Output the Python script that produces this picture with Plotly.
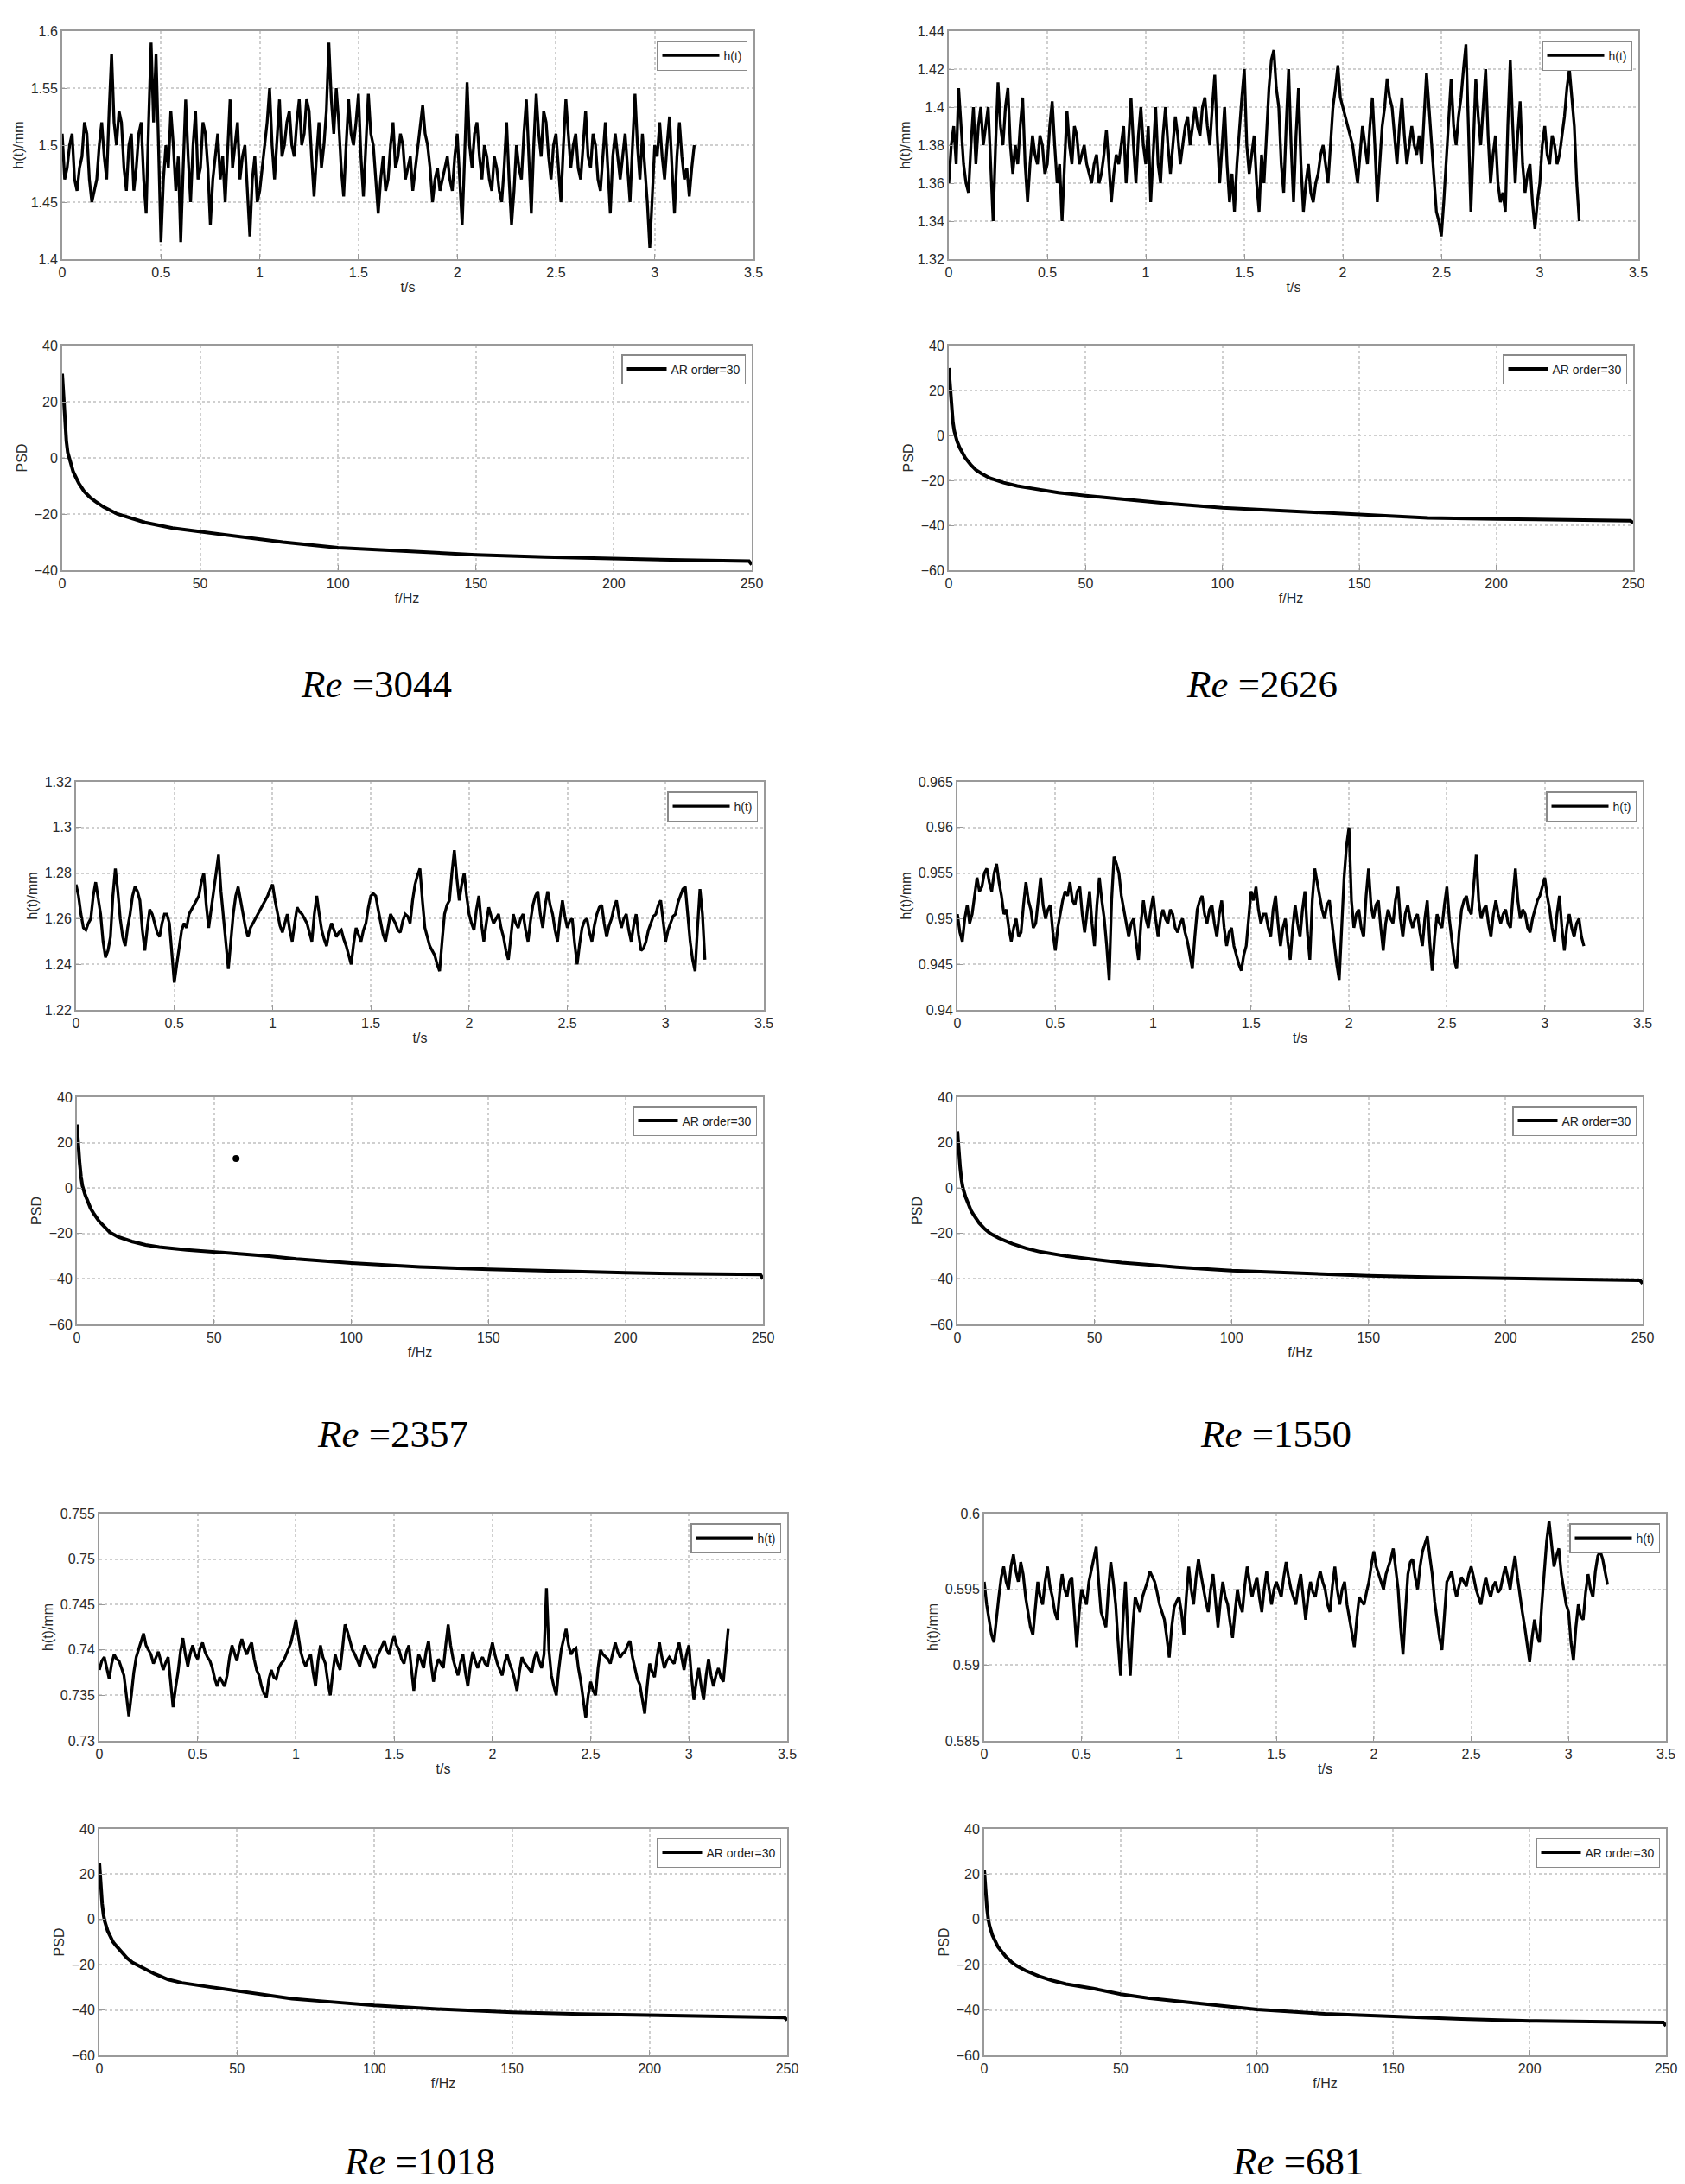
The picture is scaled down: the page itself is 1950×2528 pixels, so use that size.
import numpy as np
import plotly.graph_objects as go

# ---- film thickness h(t) [mm]; main readings every 0.025 s plus the wiggle between them ----
t_s = np.linspace(0, 3.2, 257)

h_3044_main = [1.51, 1.48, 1.51, 1.46, 1.49, 1.51, 1.45, 1.47, 1.52, 1.47, 1.58, 1.50, 1.52, 1.46, 1.51, 1.48,
               1.52, 1.44, 1.59, 1.58, 1.415, 1.50, 1.53, 1.46, 1.415, 1.54, 1.45, 1.53, 1.48, 1.51, 1.43, 1.49,
               1.47, 1.45, 1.54, 1.50, 1.47, 1.50, 1.42, 1.49, 1.46, 1.50, 1.55, 1.47, 1.54, 1.50, 1.53, 1.49,
               1.54, 1.51, 1.53, 1.455, 1.52, 1.50, 1.59, 1.51, 1.52, 1.455, 1.54, 1.50, 1.545, 1.455, 1.545, 1.50,
               1.44, 1.49, 1.47, 1.52, 1.49, 1.50, 1.48, 1.46, 1.50, 1.535, 1.50, 1.45, 1.48, 1.47, 1.49, 1.46,
               1.51, 1.43, 1.555, 1.48, 1.52, 1.47, 1.49, 1.46, 1.48, 1.45, 1.52, 1.43, 1.50, 1.47, 1.54, 1.44,
               1.545, 1.49, 1.52, 1.47, 1.51, 1.45, 1.54, 1.48, 1.51, 1.47, 1.53, 1.48, 1.50, 1.46, 1.52, 1.44,
               1.51, 1.47, 1.51, 1.45, 1.545, 1.47, 1.48, 1.41, 1.50, 1.52, 1.47, 1.525, 1.44, 1.52, 1.47, 1.455,
               1.50]
h_3044_mid = [1.47, 1.50, 1.47, 1.48, 1.52, 1.47, 1.46, 1.50, 1.49, 1.53, 1.52, 1.53, 1.48, 1.50, 1.46, 1.51,
              1.47, 1.52, 1.52, 1.50, 1.47, 1.48, 1.50, 1.49, 1.48, 1.49, 1.50, 1.47, 1.52, 1.48, 1.47, 1.51,
              1.49, 1.50, 1.48, 1.52, 1.49, 1.46, 1.47, 1.45, 1.48, 1.52, 1.50, 1.51, 1.49, 1.52, 1.50, 1.52,
              1.50, 1.54, 1.49, 1.49, 1.48, 1.53, 1.54, 1.55, 1.48, 1.50, 1.51, 1.52, 1.49, 1.50, 1.51, 1.47,
              1.47, 1.46, 1.50, 1.48, 1.51, 1.47, 1.49, 1.48, 1.52, 1.51, 1.48, 1.47, 1.46, 1.48, 1.47, 1.49,
              1.47, 1.49, 1.50, 1.51, 1.49, 1.50, 1.47, 1.49, 1.46, 1.48, 1.47, 1.46, 1.48, 1.51, 1.49, 1.50,
              1.51, 1.53, 1.49, 1.50, 1.48, 1.50, 1.51, 1.50, 1.48, 1.50, 1.49, 1.51, 1.47, 1.49, 1.48, 1.49,
              1.49, 1.49, 1.48, 1.50, 1.50, 1.51, 1.45, 1.46, 1.49, 1.49, 1.50, 1.48, 1.49, 1.49, 1.48, 1.48]

h_2626_main = [1.36, 1.39, 1.41, 1.37, 1.355, 1.40, 1.39, 1.38, 1.40, 1.34, 1.413, 1.38, 1.41, 1.365, 1.37, 1.405,
               1.35, 1.385, 1.37, 1.38, 1.37, 1.403, 1.36, 1.34, 1.398, 1.37, 1.385, 1.375, 1.37, 1.36, 1.375, 1.365,
               1.388, 1.35, 1.375, 1.38, 1.36, 1.405, 1.36, 1.40, 1.37, 1.35, 1.40, 1.36, 1.40, 1.365, 1.395, 1.37,
               1.39, 1.38, 1.40, 1.385, 1.405, 1.38, 1.417, 1.36, 1.40, 1.35, 1.345, 1.39, 1.42, 1.365, 1.385, 1.345,
               1.36, 1.41, 1.43, 1.40, 1.355, 1.42, 1.35, 1.41, 1.345, 1.37, 1.35, 1.365, 1.38, 1.36, 1.40, 1.422,
               1.40, 1.39, 1.38, 1.36, 1.39, 1.37, 1.405, 1.35, 1.39, 1.415, 1.40, 1.37, 1.405, 1.37, 1.39, 1.375,
               1.37, 1.418, 1.38, 1.345, 1.332, 1.37, 1.415, 1.38, 1.405, 1.433, 1.345, 1.415, 1.38, 1.42, 1.36, 1.385,
               1.35, 1.345, 1.425, 1.36, 1.403, 1.355, 1.37, 1.336, 1.36, 1.39, 1.37, 1.38, 1.375, 1.395, 1.42, 1.39,
               1.34]
h_2626_mid = [1.38, 1.37, 1.39, 1.36, 1.38, 1.37, 1.40, 1.39, 1.37, 1.38, 1.39, 1.40, 1.38, 1.38, 1.39, 1.37,
              1.37, 1.375, 1.385, 1.365, 1.39, 1.38, 1.37, 1.37, 1.38, 1.39, 1.37, 1.38, 1.365, 1.37, 1.36, 1.375,
              1.37, 1.365, 1.37, 1.39, 1.38, 1.38, 1.385, 1.38, 1.39, 1.375, 1.37, 1.385, 1.38, 1.38, 1.385, 1.38,
              1.395, 1.39, 1.39, 1.40, 1.39, 1.40, 1.385, 1.38, 1.37, 1.365, 1.37, 1.405, 1.38, 1.375, 1.36, 1.375,
              1.385, 1.425, 1.41, 1.37, 1.39, 1.38, 1.385, 1.37, 1.36, 1.355, 1.36, 1.375, 1.37, 1.38, 1.41, 1.405,
              1.395, 1.385, 1.37, 1.375, 1.38, 1.39, 1.38, 1.37, 1.40, 1.405, 1.385, 1.39, 1.385, 1.38, 1.38, 1.385,
              1.395, 1.40, 1.36, 1.34, 1.35, 1.395, 1.39, 1.395, 1.42, 1.39, 1.38, 1.395, 1.40, 1.385, 1.375, 1.36,
              1.355, 1.39, 1.39, 1.385, 1.37, 1.365, 1.35, 1.35, 1.38, 1.375, 1.385, 1.37, 1.385, 1.41, 1.405, 1.36]

h_2357_main = [1.275, 1.262, 1.255, 1.260, 1.276, 1.262, 1.243, 1.252, 1.282, 1.260, 1.248, 1.262, 1.274, 1.268, 1.246, 1.264,
               1.258, 1.252, 1.262, 1.258, 1.232, 1.248, 1.258, 1.262, 1.266, 1.270, 1.280, 1.256, 1.272, 1.288, 1.260, 1.238,
               1.262, 1.274, 1.262, 1.252, 1.258, 1.262, 1.266, 1.270, 1.275, 1.262, 1.254, 1.262, 1.250, 1.265, 1.262, 1.258,
               1.250, 1.270, 1.255, 1.248, 1.258, 1.252, 1.255, 1.248, 1.240, 1.256, 1.250, 1.258, 1.270, 1.270, 1.258, 1.250,
               1.262, 1.258, 1.254, 1.262, 1.258, 1.275, 1.282, 1.256, 1.248, 1.244, 1.237, 1.262, 1.268, 1.290, 1.268, 1.280,
               1.262, 1.255, 1.270, 1.250, 1.265, 1.258, 1.262, 1.252, 1.242, 1.262, 1.256, 1.262, 1.250, 1.266, 1.272, 1.256,
               1.272, 1.262, 1.250, 1.268, 1.256, 1.260, 1.240, 1.256, 1.260, 1.250, 1.262, 1.266, 1.252, 1.260, 1.268, 1.256,
               1.262, 1.250, 1.262, 1.246, 1.250, 1.258, 1.262, 1.268, 1.250, 1.258, 1.262, 1.270, 1.274, 1.250, 1.237, 1.273,
               1.242]
h_2357_mid = [1.270, 1.256, 1.258, 1.270, 1.268, 1.250, 1.246, 1.270, 1.272, 1.252, 1.256, 1.270, 1.272, 1.255, 1.256, 1.262,
              1.254, 1.258, 1.262, 1.246, 1.240, 1.255, 1.256, 1.264, 1.268, 1.276, 1.266, 1.264, 1.282, 1.272, 1.248, 1.250,
              1.270, 1.268, 1.256, 1.256, 1.260, 1.264, 1.268, 1.273, 1.268, 1.257, 1.258, 1.255, 1.258, 1.263, 1.260, 1.254,
              1.262, 1.262, 1.251, 1.254, 1.255, 1.254, 1.251, 1.244, 1.249, 1.253, 1.255, 1.265, 1.271, 1.264, 1.253, 1.256,
              1.260, 1.255, 1.259, 1.261, 1.268, 1.279, 1.268, 1.252, 1.246, 1.240, 1.250, 1.266, 1.280, 1.278, 1.275, 1.270,
              1.258, 1.264, 1.258, 1.258, 1.261, 1.260, 1.256, 1.246, 1.252, 1.258, 1.260, 1.255, 1.259, 1.270, 1.262, 1.266,
              1.266, 1.255, 1.260, 1.261, 1.259, 1.249, 1.249, 1.259, 1.254, 1.257, 1.265, 1.258, 1.257, 1.265, 1.261, 1.260,
              1.255, 1.257, 1.253, 1.247, 1.255, 1.261, 1.266, 1.258, 1.255, 1.261, 1.267, 1.273, 1.262, 1.242, 1.256, 1.262]

h_1550_main = [0.9505, 0.9475, 0.9515, 0.9505, 0.9545, 0.9535, 0.9555, 0.9530, 0.9560, 0.9525, 0.9510, 0.9475, 0.9500, 0.9485, 0.9540, 0.9510,
               0.9495, 0.9545, 0.9500, 0.9515, 0.9465, 0.9505, 0.9530, 0.9540, 0.9515, 0.9535, 0.9485, 0.9530, 0.9470, 0.9545, 0.9500, 0.9433,
               0.9568, 0.9550, 0.9510, 0.9480, 0.9500, 0.9455, 0.9520, 0.9490, 0.9525, 0.9480, 0.9510, 0.9495, 0.9505, 0.9485, 0.9500, 0.9475,
               0.9445, 0.9510, 0.9525, 0.9495, 0.9515, 0.9480, 0.9520, 0.9470, 0.9490, 0.9460, 0.9443, 0.9470, 0.9530, 0.9535, 0.9495, 0.9505,
               0.9480, 0.9525, 0.9470, 0.9500, 0.9455, 0.9515, 0.9480, 0.9530, 0.9455, 0.9555, 0.9525, 0.9500, 0.9520, 0.9475, 0.9433, 0.9545,
               0.9600, 0.9490, 0.9510, 0.9480, 0.9555, 0.9500, 0.9520, 0.9465, 0.9510, 0.9495, 0.9535, 0.9480, 0.9515, 0.9490, 0.9505, 0.9470,
               0.9520, 0.9443, 0.9505, 0.9490, 0.9535, 0.9475, 0.9445, 0.9510, 0.9525, 0.9505, 0.9570, 0.9500, 0.9515, 0.9480, 0.9520, 0.9495,
               0.9510, 0.9490, 0.9555, 0.9500, 0.9505, 0.9485, 0.9510, 0.9525, 0.9545, 0.9510, 0.9475, 0.9525, 0.9465, 0.9505, 0.9480, 0.9500,
               0.9470]
h_1550_mid = [0.9485, 0.9500, 0.9495, 0.9525, 0.9530, 0.9550, 0.9540, 0.9550, 0.9540, 0.9505, 0.9490, 0.9490, 0.9480, 0.9515, 0.9520, 0.9490,
              0.9520, 0.9515, 0.9510, 0.9485, 0.9490, 0.9520, 0.9525, 0.9520, 0.9530, 0.9505, 0.9510, 0.9495, 0.9515, 0.9520, 0.9470, 0.9520,
              0.9560, 0.9525, 0.9495, 0.9495, 0.9475, 0.9495, 0.9500, 0.9510, 0.9500, 0.9500, 0.9500, 0.9510, 0.9490, 0.9495, 0.9485, 0.9460,
              0.9480, 0.9520, 0.9505, 0.9510, 0.9495, 0.9505, 0.9490, 0.9485, 0.9470, 0.9450, 0.9460, 0.9505, 0.9520, 0.9510, 0.9505, 0.9490,
              0.9510, 0.9495, 0.9490, 0.9475, 0.9490, 0.9495, 0.9510, 0.9485, 0.9520, 0.9540, 0.9510, 0.9515, 0.9495, 0.9450, 0.9490, 0.9580,
              0.9520, 0.9505, 0.9490, 0.9525, 0.9515, 0.9515, 0.9490, 0.9495, 0.9500, 0.9520, 0.9500, 0.9505, 0.9500, 0.9500, 0.9485, 0.9500,
              0.9475, 0.9480, 0.9495, 0.9515, 0.9500, 0.9455, 0.9485, 0.9520, 0.9510, 0.9535, 0.9520, 0.9510, 0.9495, 0.9505, 0.9505, 0.9505,
              0.9495, 0.9525, 0.9520, 0.9510, 0.9490, 0.9500, 0.9520, 0.9535, 0.9525, 0.9490, 0.9505, 0.9490, 0.9490, 0.9490, 0.9495, 0.9480]

h_1018_main = [0.7378, 0.7392, 0.7368, 0.7395, 0.7388, 0.7372, 0.7327, 0.7375, 0.7400, 0.7418, 0.7400, 0.7385, 0.7398, 0.7378, 0.7392, 0.7337,
               0.7375, 0.7413, 0.7382, 0.7405, 0.7390, 0.7408, 0.7392, 0.7380, 0.7360, 0.7365, 0.7372, 0.7405, 0.7388, 0.7412, 0.7395, 0.7408,
               0.7378, 0.7360, 0.7348, 0.7378, 0.7368, 0.7385, 0.7395, 0.7408, 0.7433, 0.7398, 0.7382, 0.7395, 0.7360, 0.7405, 0.7385, 0.7350,
               0.7395, 0.7378, 0.7428, 0.7410, 0.7395, 0.7382, 0.7405, 0.7392, 0.7380, 0.7398, 0.7410, 0.7395, 0.7415, 0.7400, 0.7385, 0.7405,
               0.7355, 0.7395, 0.7380, 0.7410, 0.7365, 0.7390, 0.7380, 0.7428, 0.7390, 0.7372, 0.7395, 0.7360, 0.7398, 0.7380, 0.7392, 0.7382,
               0.7408, 0.7385, 0.7372, 0.7395, 0.7378, 0.7355, 0.7392, 0.7382, 0.7375, 0.7398, 0.7380, 0.7468, 0.7372, 0.7350, 0.7400, 0.7423,
               0.7395, 0.7402, 0.7365, 0.7325, 0.7365, 0.7350, 0.7400, 0.7392, 0.7385, 0.7408, 0.7392, 0.7398, 0.7410, 0.7380, 0.7362, 0.7330,
               0.7385, 0.7370, 0.7408, 0.7380, 0.7392, 0.7385, 0.7408, 0.7378, 0.7405, 0.7345, 0.7380, 0.7345, 0.7390, 0.7360, 0.7380, 0.7365,
               0.7423]
h_1018_mid = [0.7388, 0.7380, 0.7385, 0.7390, 0.7380, 0.7350, 0.7350, 0.7392, 0.7410, 0.7405, 0.7395, 0.7392, 0.7388, 0.7386, 0.7365, 0.7358,
              0.7398, 0.7395, 0.7396, 0.7395, 0.7402, 0.7398, 0.7388, 0.7368, 0.7370, 0.7360, 0.7392, 0.7395, 0.7402, 0.7402, 0.7403, 0.7390,
              0.7372, 0.7352, 0.7368, 0.7370, 0.7380, 0.7388, 0.7402, 0.7420, 0.7415, 0.7388, 0.7390, 0.7375, 0.7388, 0.7392, 0.7365, 0.7375,
              0.7385, 0.7402, 0.7420, 0.7400, 0.7388, 0.7395, 0.7398, 0.7385, 0.7392, 0.7405, 0.7400, 0.7408, 0.7405, 0.7390, 0.7398, 0.7380,
              0.7378, 0.7388, 0.7398, 0.7385, 0.7380, 0.7385, 0.7405, 0.7405, 0.7380, 0.7386, 0.7375, 0.7382, 0.7388, 0.7388, 0.7385, 0.7396,
              0.7395, 0.7378, 0.7386, 0.7385, 0.7368, 0.7376, 0.7386, 0.7378, 0.7390, 0.7388, 0.7395, 0.7400, 0.7360, 0.7378, 0.7412, 0.7405,
              0.7400, 0.7380, 0.7345, 0.7350, 0.7355, 0.7380, 0.7395, 0.7390, 0.7398, 0.7398, 0.7396, 0.7405, 0.7392, 0.7368, 0.7345, 0.7360,
              0.7376, 0.7392, 0.7392, 0.7388, 0.7388, 0.7398, 0.7392, 0.7395, 0.7372, 0.7365, 0.7360, 0.7372, 0.7372, 0.7372, 0.7370, 0.7395]

h_681_main = [0.5955, 0.5930, 0.5915, 0.5945, 0.5965, 0.5950, 0.5973, 0.5955, 0.5960, 0.5935, 0.5920, 0.5955, 0.5940, 0.5965, 0.5945, 0.5930,
              0.5960, 0.5945, 0.5958, 0.5912, 0.5950, 0.5940, 0.5962, 0.5978, 0.5935, 0.5925, 0.5968, 0.5940, 0.5893, 0.5955, 0.5893, 0.5945,
              0.5935, 0.5950, 0.5962, 0.5955, 0.5940, 0.5930, 0.5905, 0.5938, 0.5945, 0.5920, 0.5965, 0.5940, 0.5970, 0.5950, 0.5935, 0.5960,
              0.5925, 0.5955, 0.5940, 0.5918, 0.5950, 0.5935, 0.5965, 0.5945, 0.5958, 0.5935, 0.5962, 0.5940, 0.5955, 0.5945, 0.5968, 0.5950,
              0.5940, 0.5960, 0.5930, 0.5955, 0.5945, 0.5962, 0.5950, 0.5935, 0.5965, 0.5940, 0.5955, 0.5930, 0.5912, 0.5945, 0.5940, 0.5955,
              0.5975, 0.5960, 0.5950, 0.5965, 0.5977, 0.5950, 0.5907, 0.5960, 0.5970, 0.5950, 0.5975, 0.5985, 0.5960, 0.5930, 0.5910, 0.5955,
              0.5962, 0.5945, 0.5958, 0.5952, 0.5965, 0.5950, 0.5940, 0.5958, 0.5945, 0.5955, 0.5950, 0.5965, 0.5950, 0.5972, 0.5945, 0.5925,
              0.5902, 0.5930, 0.5915, 0.5960, 0.5995, 0.5965, 0.5977, 0.5950, 0.5935, 0.5903, 0.5940, 0.5930, 0.5960, 0.5945, 0.5972, 0.5970,
              0.5953]
h_681_mid = [0.5940, 0.5920, 0.5932, 0.5958, 0.5955, 0.5965, 0.5962, 0.5968, 0.5945, 0.5925, 0.5940, 0.5945, 0.5955, 0.5952, 0.5935, 0.5948,
             0.5950, 0.5955, 0.5935, 0.5935, 0.5945, 0.5955, 0.5970, 0.5955, 0.5930, 0.5950, 0.5955, 0.5915, 0.5930, 0.5920, 0.5925, 0.5940,
             0.5945, 0.5955, 0.5958, 0.5948, 0.5935, 0.5918, 0.5925, 0.5942, 0.5935, 0.5945, 0.5950, 0.5958, 0.5960, 0.5942, 0.5950, 0.5940,
             0.5942, 0.5945, 0.5928, 0.5935, 0.5940, 0.5952, 0.5955, 0.5952, 0.5945, 0.5950, 0.5950, 0.5950, 0.5950, 0.5958, 0.5958, 0.5945,
             0.5952, 0.5945, 0.5945, 0.5948, 0.5955, 0.5955, 0.5940, 0.5952, 0.5950, 0.5950, 0.5940, 0.5920, 0.5930, 0.5942, 0.5948, 0.5966,
             0.5965, 0.5955, 0.5960, 0.5970, 0.5962, 0.5925, 0.5935, 0.5968, 0.5958, 0.5965, 0.5980, 0.5972, 0.5942, 0.5918, 0.5935, 0.5958,
             0.5952, 0.5952, 0.5955, 0.5960, 0.5958, 0.5945, 0.5950, 0.5950, 0.5952, 0.5948, 0.5958, 0.5958, 0.5962, 0.5958, 0.5935, 0.5912,
             0.5918, 0.5920, 0.5940, 0.5982, 0.5978, 0.5972, 0.5960, 0.5940, 0.5915, 0.5925, 0.5932, 0.5948, 0.5950, 0.5962, 0.5975, 0.5962]

# ---- AR(30) power spectral density ----
f_hz = [0, 0.5, 1, 1.5, 2, 3, 4, 5, 6, 8, 10, 12, 15, 20, 25, 30, 40, 50, 60, 70, 80, 100, 125, 150, 175, 200, 225, 249, 250]
psd_3044 = [30, 20, 12, 6, 2, -2, -5, -7, -9, -12, -14, -15.5, -17.5, -20, -21.5, -23, -25, -26.3, -27.5, -29, -30,
            -32, -33.3, -34.5, -35.3, -36, -36.4, -36.8, -38]
psd_2626 = [30, 20, 12, 6, 2, -2.5, -5.5, -8, -10, -13, -15.5, -17, -19, -21, -22.5, -23.5, -25.5, -26.8, -28, -29.3, -30.3,
            -32.2, -33.8, -35.3, -36.7, -37.2, -37.6, -38, -39]
psd_2357 = [28, 18, 11, 5, 1, -3, -6.5, -9, -11, -14.5, -17, -19.5, -21.5, -23.5, -25, -26, -27.2, -28, -29, -30, -31.2,
            -33, -34.7, -35.8, -36.7, -37.3, -37.8, -38, -40]
psd_1550 = [25, 15, 9, 3.5, 0, -4, -7.5, -10, -12, -15.5, -18, -20, -22, -24.5, -26.5, -28, -30, -31.5, -32.8, -33.8, -34.8,
            -36.3, -37.6, -38.6, -39.3, -39.8, -40.2, -40.6, -42]
psd_1018 = [25, 14, 7, 2, -1, -5, -8, -10, -11.5, -14.5, -17, -19, -21, -24, -26.5, -28, -29.8, -31.5, -33.5, -35, -36,
            -38, -39.7, -41, -41.8, -42.3, -42.8, -43.3, -44.5]
psd_681 = [22, 12, 5, 0, -3, -7, -10, -12, -13.5, -16.5, -18.8, -20.5, -22.5, -25, -27, -28.5, -30.5, -33, -34.7, -36, -37.3,
           -39.8, -41.7, -43, -44, -44.8, -45.2, -45.5, -47]
stray_dot_f = [58]
stray_dot_psd = [13]

re_labels = ["3044", "2626", "2357", "1550", "1018", "681"]
h_main = [h_3044_main, h_2626_main, h_2357_main, h_1550_main, h_1018_main, h_681_main]
h_mid = [h_3044_mid, h_2626_mid, h_2357_mid, h_1550_mid, h_1018_mid, h_681_mid]
psd_series = [psd_3044, psd_2626, psd_2357, psd_1550, psd_1018, psd_681]
h_ranges = [(1.4, 1.6, 0.05), (1.32, 1.44, 0.02), (1.22, 1.32, 0.02),
            (0.94, 0.965, 0.005), (0.73, 0.755, 0.005), (0.585, 0.6, 0.005)]
psd_ranges = [(-40, 40), (-60, 40), (-60, 40), (-60, 40), (-60, 40), (-60, 40)]


def weave(main, mid):
    out = []
    for a, b in zip(main, mid):
        out += [a, b]
    return out + [main[-1]]


W, H = 1950, 2528
PAGE_OFF = 8  # the page body margin shifts the whole figure by this much
# pixel boxes (left, right, top, bottom) for h(t) and PSD panels of each case, as seen on the page
h_boxes = [(72, 872, 36, 300), (1098, 1896, 36, 300),
           (88, 884, 905, 1169), (1108, 1901, 905, 1169),
           (115, 911, 1752, 2015), (1139, 1928, 1752, 2015)]
psd_boxes = [(72, 870, 400, 660), (1098, 1890, 400, 660),
             (89, 883, 1270, 1533), (1108, 1901, 1270, 1533),
             (115, 911, 2117, 2379), (1139, 1928, 2117, 2379)]
label_pos = [(427, 784), (1452, 784), (446, 1652), (1468, 1652), (477, 2494), (1494, 2494)]

FONT = "Liberation Sans, Arial, sans-serif"
tick_font = dict(family=FONT, size=16, color="#2a2a2a")


def px_x(v):
    return (v - PAGE_OFF) / W


def px_y(v):
    return 1 - (v - PAGE_OFF) / H


def axis_style(rng, dtick, tick0, title, domain, anchor):
    return dict(
        domain=domain, anchor=anchor, range=list(rng), dtick=dtick, tick0=tick0,
        automargin=False,
        showline=True, mirror=True, linecolor="#9a9a9a", linewidth=2,
        ticks="inside", ticklen=6, tickcolor="#9a9a9a",
        showgrid=True, gridcolor="#cfcfcf", griddash="dot", gridwidth=1.5,
        zeroline=False, tickfont=tick_font,
        title=dict(text=title, font=dict(family=FONT, size=16, color="#2a2a2a"), standoff=4),
    )


fig = go.Figure()
layout = dict(width=W, height=H, margin=dict(l=0, r=0, t=0, b=0, autoexpand=False),
              paper_bgcolor="white", plot_bgcolor="white", annotations=[])

n = 0
for i in range(6):
    for kind in ("h", "psd"):
        n += 1
        suffix = "" if n == 1 else str(n)
        if kind == "h":
            l, r, t, b = h_boxes[i]
            lo, hi, step = h_ranges[i]
            xs, ys, name = t_s, weave(h_main[i], h_mid[i]), "h(t)"
            xax = axis_style((0, 3.5), 0.5, 0, "t/s", [px_x(l), px_x(r)], "y" + suffix)
            yax = axis_style((lo, hi), step, lo, "h(t)/mm", [px_y(b), px_y(t)], "x" + suffix)
            lw, top_gap, item_w = 3.3, 11, 66
        else:
            l, r, t, b = psd_boxes[i]
            lo, hi = psd_ranges[i]
            xs, ys, name = f_hz, psd_series[i], "AR order=30"
            xax = axis_style((0, 250), 50, 0, "f/Hz", [px_x(l), px_x(r)], "y" + suffix)
            yax = axis_style((lo, hi), 20, lo, "PSD", [px_y(b), px_y(t)], "x" + suffix)
            lw, top_gap, item_w = 4, 10, 46
        layout["xaxis" + suffix] = xax
        layout["yaxis" + suffix] = yax
        leg = "legend" + suffix
        layout[leg] = dict(
            x=px_x(r - 7), y=px_y(t + top_gap), xanchor="right", yanchor="top",
            bgcolor="white", bordercolor="#8a8a8a", borderwidth=1.5,
            font=dict(family=FONT, size=14, color="#222222"),
            itemwidth=item_w, tracegroupgap=0,
        )
        fig.add_trace(go.Scatter(
            x=xs, y=ys, mode="lines", name=name,
            line=dict(color="black", width=lw),
            xaxis="x" + suffix, yaxis="y" + suffix,
            legend=leg, showlegend=True,
        ))
        if kind == "psd" and i == 2:
            fig.add_trace(go.Scatter(
                x=stray_dot_f, y=stray_dot_psd, mode="markers",
                marker=dict(color="black", size=8),
                xaxis="x" + suffix, yaxis="y" + suffix, showlegend=False,
            ))

for i, lab in enumerate(re_labels):
    cx, cy = label_pos[i]
    layout["annotations"].append(dict(
        x=px_x(cx + PAGE_OFF), y=px_y(cy + PAGE_OFF), xref="paper", yref="paper", showarrow=False,
        xanchor="center", yanchor="middle",
        text="<i>Re</i> =" + lab,
        font=dict(family="Liberation Serif, Times New Roman, serif", size=45, color="black"),
    ))

fig.update_layout(**layout)
fig.write_html("out.html")
